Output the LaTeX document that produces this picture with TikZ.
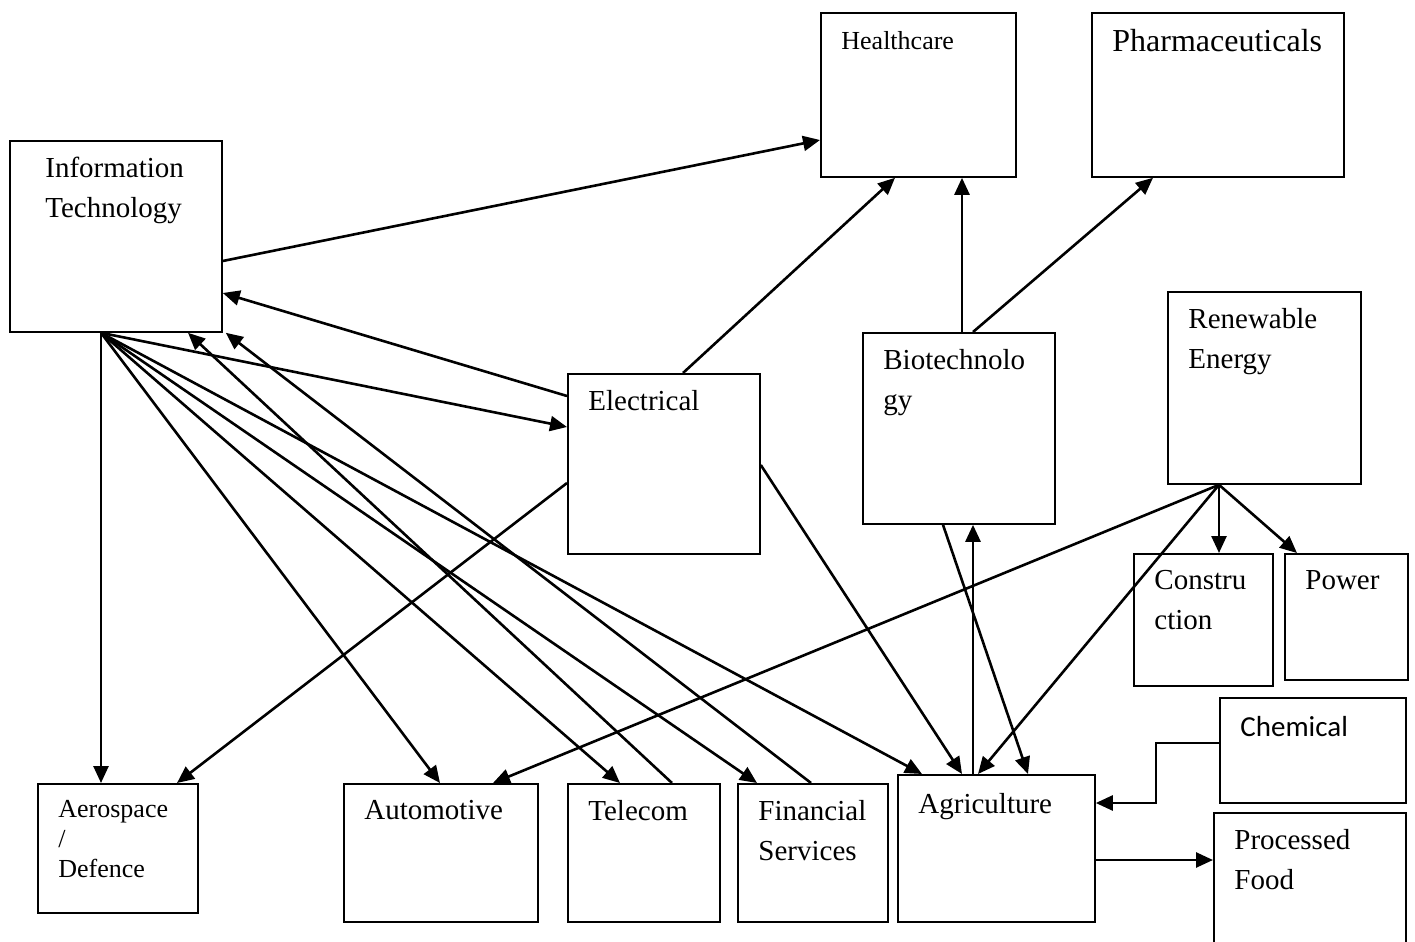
\documentclass[tikz,border=0pt]{standalone}
\usepackage{fontspec}
\setmainfont{Liberation Serif}
\newfontfamily\calibri{Carlito}
\usetikzlibrary{arrows.meta}
\tikzset{
    box/.style={draw, line width=0.9pt, anchor=north west, inner sep=0pt},
    txt/.style={anchor=north west, align=left, inner sep=0pt, xshift=10.5pt, yshift=-8.5pt, font=\fontsize{14.5pt}{20pt}\selectfont},
    smalltxt/.style={font=\fontsize{13pt}{15pt}\selectfont},
    link/.style={line width=1.3pt, -{Triangle[length=8.5pt,width=7.5pt]}}
}
\begin{document}
\begin{tikzpicture}[x=0.5pt, y=-0.5pt]
    \useasboundingbox (0,0) rectangle (1415,942);
    \node[box, minimum width=106pt, minimum height=95.5pt] (it) at (9,140) {};
    \node[box, minimum width=97.5pt, minimum height=82pt] (hc) at (820,12) {};
    \node[box, minimum width=126pt, minimum height=82pt] (ph) at (1091,12) {};
    \node[box, minimum width=96pt, minimum height=90pt] (el) at (567,373) {};
    \node[box, minimum width=96pt, minimum height=95.5pt] (bt) at (862,332) {};
    \node[box, minimum width=96.5pt, minimum height=96pt] (re) at (1167,291) {};
    \node[box, minimum width=69.5pt, minimum height=66pt] (cn) at (1133,553) {};
    \node[box, minimum width=61.5pt, minimum height=63pt] (pw) at (1284,553) {};
    \node[box, minimum width=93pt, minimum height=52.5pt] (ch) at (1219,697) {};
    \node[box, minimum width=96pt, minimum height=72pt] (pf) at (1213,812) {};
    \node[box, minimum width=80pt, minimum height=64.5pt] (ad) at (37,783) {};
    \node[box, minimum width=97pt, minimum height=69pt] (au) at (343,783) {};
    \node[box, minimum width=76pt, minimum height=69pt] (tc) at (567,783) {};
    \node[box, minimum width=75pt, minimum height=69pt] (fs) at (737,783) {};
    \node[box, minimum width=98.5pt, minimum height=73.5pt] (ag) at (897,774) {};

    \node[txt, xshift=7.5pt] (itT) at (it.north west) {Information\\Technology};
    \node[txt, smalltxt, yshift=-1pt] (hcT) at (hc.north west) {Healthcare};
    \node[txt, font=\fontsize{16pt}{20pt}\selectfont] (phT) at (ph.north west) {Pharmaceuticals};
    \node[txt] (elT) at (el.north west) {Electrical};
    \node[txt] (btT) at (bt.north west) {Biotechnolo\\gy};
    \node[txt] (reT) at (re.north west) {Renewable\\Energy};
    \node[txt] (cnT) at (cn.north west) {Constru\\ction};
    \node[txt] (pwT) at (pw.north west) {Power};
    \node[txt, font=\calibri\fontsize{14.5pt}{20pt}\selectfont, yshift=-1pt] (chT) at (ch.north west) {Chemical};
    \node[txt] (pfT) at (pf.north west) {Processed\\Food};
    \node[txt, smalltxt] (adT) at (ad.north west) {Aerospace\\/\\Defence};
    \node[txt] (auT) at (au.north west) {Automotive};
    \node[txt] (tcT) at (tc.north west) {Telecom};
    \node[txt] (fsT) at (fs.north west) {Financial\\Services};
    \node[txt, yshift=-1pt] (agT) at (ag.north west) {Agriculture};

    \coordinate (ithub) at ([xshift=46pt]it.south west);
    \coordinate (rehub) at ([xshift=26pt]re.south west);

    \draw[link] ([yshift=-60.5pt]it.north east) -- ([yshift=-64pt]hc.north west);
    \draw[link] ([yshift=-11.5pt]el.north west) -- ([yshift=-76.5pt]it.north east);
    \draw[link] (ithub) -- ([yshift=-27pt]el.north west);
    \draw[link] (ithub) -- ([xshift=32pt]ad.north west);
    \draw[link] (ithub) -- ([xshift=48.5pt]au.north west);
    \draw[link] (ithub) -- ([xshift=26.5pt]tc.north west);
    \draw[link] (ithub) -- ([xshift=10pt]fs.north west);
    \draw[link] (ithub) -- ([xshift=12.5pt]ag.north west);
    \draw[link] ([xshift=52.5pt]tc.north west) -- ([xshift=89.5pt]it.south west);
    \draw[link] ([xshift=37pt]fs.north west) -- ([xshift=1.5pt]it.south east);
    \draw[link] ([yshift=-55pt]el.north west) -- ([xshift=70pt]ad.north west);
    \draw[link] ([xshift=58pt]el.north west) -- ([xshift=37.5pt]hc.south west);
    \draw[link] ([yshift=-46pt]el.north east) -- ([xshift=32.5pt]ag.north west);
    \draw[link] ([xshift=50pt]bt.north west) -- ([xshift=71pt]hc.south west);
    \draw[link] ([xshift=55.5pt]bt.north west) -- ([xshift=31pt]ph.south west);
    \draw[link] ([xshift=38pt]ag.north west) -- ([xshift=55.5pt]bt.south west);
    \draw[link] ([xshift=40.5pt]bt.south west) -- ([xshift=65.5pt]ag.north west);
    \draw[link] (rehub) -- ([xshift=75pt]au.north west);
    \draw[link] (rehub) -- ([xshift=40.5pt]ag.north west);
    \draw[link] (rehub) -- ([xshift=43pt]cn.north west);
    \draw[link] (rehub) -- ([xshift=6.5pt]pw.north west);
    \draw[link] ([yshift=-23pt]ch.north west) -- ++(-31.5pt,0) |- ([yshift=-14.5pt]ag.north east);
    \draw[link] ([yshift=-43pt]ag.north east) -- ([yshift=-24pt]pf.north west);
\end{tikzpicture}
\end{document}
